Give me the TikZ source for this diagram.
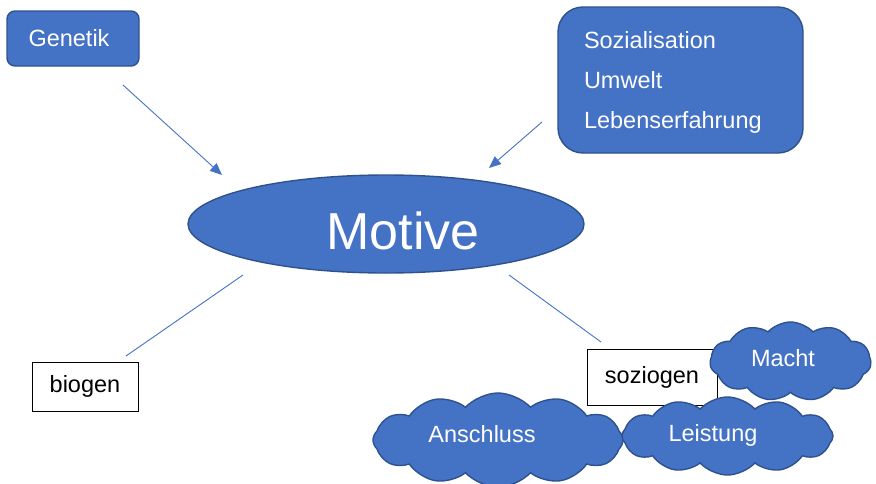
\documentclass[tikz,border=0pt]{standalone}
\usepackage{fontspec}
\setmainfont{Liberation Sans}
\usetikzlibrary{shapes.geometric,shapes.symbols,arrows.meta}
\definecolor{mblue}{HTML}{4472C4}
\definecolor{mborder}{HTML}{2F528F}
\tikzset{
  bluebox/.style={draw=mborder, line width=1.4pt, fill=mblue, text=white, inner sep=0pt,
    font=\fontsize{23.5}{28}\selectfont},
  whitebox/.style={draw=black, line width=0.9pt, fill=white, text=black, inner sep=0pt,
    font=\fontsize{23.5}{28}\selectfont},
  bluecloud/.style={cloud, cloud puffs=12, cloud puff arc=95, cloud ignores aspect,
    draw=mborder, line width=1.4pt, fill=mblue, text=white, inner sep=0pt,
    font=\fontsize{23.5}{28}\selectfont},
  conn/.style={draw=mblue, line width=0.9pt},
  arr/.style={conn, -{Triangle[length=12pt,width=10pt]}},
}
\begin{document}
\begin{tikzpicture}[x=1pt,y=-1pt]
\useasboundingbox (0,0) rectangle (876,483);
\fill[white] (0,0) rectangle (876,483);

% free ends of connectors
\coordinate (g1) at (123,85);
\coordinate (g2) at (222,175);
\coordinate (s1) at (542,122);
\coordinate (s2) at (489,168);
\coordinate (b1) at (243,275);
\coordinate (b2) at (126,356);
\coordinate (z1) at (509,275);
\coordinate (z2) at (601,342);

\draw[arr] (g1) -- (g2);
\draw[arr] (s1) -- (s2);
\draw[conn] (b1) -- (b2);
\draw[conn] (z1) -- (z2);

\node[bluebox, rounded corners=8pt, minimum width=132pt, minimum height=55pt]
  (genetik) at (73,38.5) {Genetik\hspace*{8pt}};

\node[bluebox, rounded corners=25pt, minimum width=245pt, minimum height=146pt,
      text width=193pt, align=left, text height=21pt, font=\fontsize{23.5}{40}\selectfont]
  (sozial) at (680.5,80) {Sozialisation\\Umwelt\\Lebenserfahrung};

\node[ellipse, draw=mborder, line width=1.4pt, fill=mblue, text=white, inner sep=0pt,
      minimum width=396pt, minimum height=98pt, text height=51pt, text depth=0pt,
      font=\fontsize{52}{60}\selectfont]
  (motive) at (386,224) {\hspace*{34pt}Motive};

\node[whitebox, minimum width=106pt, minimum height=49pt] (biogen) at (85,386.5) {biogen};
\node[whitebox, minimum width=130pt, minimum height=56pt] (soziogen) at (652,377) {soziogen};

\node[bluecloud, minimum width=250pt, minimum height=94pt, text height=15.8pt, text depth=10pt]
  (anschluss) at (498,440) {Anschluss\hspace*{32pt}};
\node[bluecloud, cloud puffs=11, minimum width=161pt, minimum height=79pt, text height=19.8pt, text depth=10pt]
  (macht) at (790.5,361.5) {Macht\hspace*{15pt}};
\node[bluecloud, minimum width=211pt, minimum height=78pt, text height=20.8pt, text depth=10pt]
  (leistung) at (727.5,436) {Leistung\hspace*{29pt}};
\end{tikzpicture}
\end{document}
